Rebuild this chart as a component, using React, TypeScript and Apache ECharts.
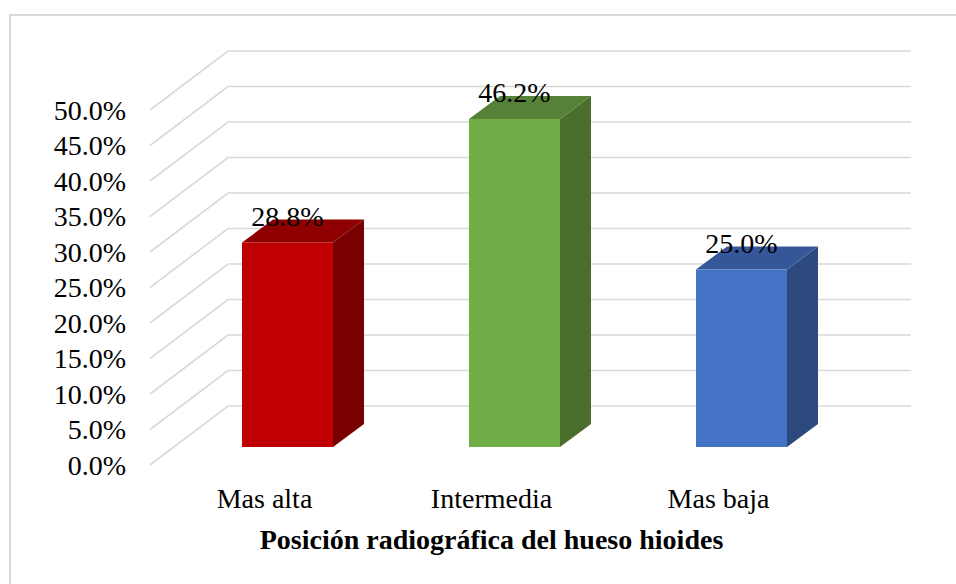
import React, { useEffect, useRef } from "react";
import * as echarts from "echarts";

const categories = ["Mas alta", "Intermedia", "Mas baja"];
const values = [28.8, 46.2, 25.0];
const yTicks = [0, 5, 10, 15, 20, 25, 30, 35, 40, 45, 50];
const axisTitle = "Posición radiográfica del hueso hioides";

// styles (front, top, side) per bar
const palette = [
  { front: "#C00000", top: "#8E0000", side: "#780000" },
  { front: "#70AD47", top: "#558236", side: "#4A6E2B" },
  { front: "#4472C4", top: "#35579A", side: "#2C4A7E" },
];

const FONT = "Liberation Serif, Times New Roman, serif";

export default function App() {
  const ref = useRef<HTMLDivElement>(null);
  useEffect(() => {
    if (!ref.current) return;
    const chart = echarts.init(ref.current, undefined, { renderer: "svg" });
    const option: any = {
      animation: false,
      backgroundColor: "#ffffff",
      graphic: [
        {
          type: "rect",
          silent: true,
          z: -10,
          shape: { x: 10, y: 15, width: 1200, height: 1000 },
          style: { fill: "none", stroke: "#d9d9d9", lineWidth: 2 },
        },
      ],
      grid: { left: 151, right: 124, top: 110, bottom: 119, containLabel: false },
      xAxis: {
        type: "category",
        data: categories,
        name: axisTitle,
        nameLocation: "middle",
        nameGap: 60,
        nameTextStyle: {
          fontFamily: FONT,
          fontWeight: "bold",
          fontSize: 28,
          color: "#000",
        },
        axisLine: { show: false },
        axisTick: { show: false },
        splitLine: { show: false },
        axisLabel: {
          fontFamily: FONT,
          fontSize: 28,
          color: "#000",
          margin: 19,
        },
      },
      yAxis: {
        type: "value",
        min: 0,
        max: 50,
        interval: 5,
        axisLine: { show: false },
        axisTick: { show: false },
        splitLine: { show: false },
        axisLabel: {
          fontFamily: FONT,
          fontSize: 28,
          color: "#000",
          margin: 25,
          formatter: (v: number) => v.toFixed(1) + "%",
        },
      },
      series: [
        {
          type: "custom",
          name: "grid3d",
          clip: false,
          silent: true,
          z: 1,
          data: yTicks.map((t) => [0, t]),
          renderItem: (params: any, api: any) => {
            const cs = params.coordSys;
            const p = api.coord([0, api.value(1)]);
            const y = p[1];
            return {
              type: "polyline",
              shape: {
                points: [
                  [cs.x - 1, y],
                  [cs.x + 77, y - 59],
                  [cs.x + cs.width + 79, y - 59],
                ],
              },
              style: { stroke: "#d9d9d9", lineWidth: 1.6, fill: "none" },
            };
          },
        },
        {
          type: "custom",
          name: "bars",
          clip: false,
          z: 5,
          data: values.map((v, i) => [i, v]),
          renderItem: (params: any, api: any) => {
            const idx = api.value(0);
            const val = api.value(1);
            const base = api.coord([idx, 0]);
            const top = api.coord([idx, val]);
            const cx = base[0] + 23;
            const yb = base[1] - 18;
            const yt = top[1] - 18;
            const w = 91;
            const x0 = cx - w / 2;
            const x1 = cx + w / 2;
            const dx = 31;
            const dy = -23;
            const c = palette[idx % palette.length];
            return {
              type: "group",
              children: [
                {
                  type: "polygon",
                  shape: {
                    points: [
                      [x1, yt],
                      [x1 + dx, yt + dy],
                      [x1 + dx, yb + dy],
                      [x1, yb],
                    ],
                  },
                  style: { fill: c.side },
                },
                {
                  type: "polygon",
                  shape: {
                    points: [
                      [x0, yt],
                      [x0 + dx, yt + dy],
                      [x1 + dx, yt + dy],
                      [x1, yt],
                    ],
                  },
                  style: { fill: c.top },
                },
                {
                  type: "rect",
                  shape: { x: x0, y: yt, width: w, height: yb - yt },
                  style: { fill: c.front },
                },
                {
                  type: "text",
                  style: {
                    text: val.toFixed(1) + "%",
                    x: cx,
                    y: yt - 26,
                    align: "center",
                    verticalAlign: "middle",
                    fontFamily: FONT,
                    fontSize: 28,
                    fill: "#000",
                  },
                },
              ],
            };
          },
        },
      ],
    };
    chart.setOption(option);
    return () => chart.dispose();
  }, []);
  return (
    <div
      ref={ref}
      style={{ position: "fixed", left: 0, top: 0, width: 956, height: 584 }}
    />
  );
}
